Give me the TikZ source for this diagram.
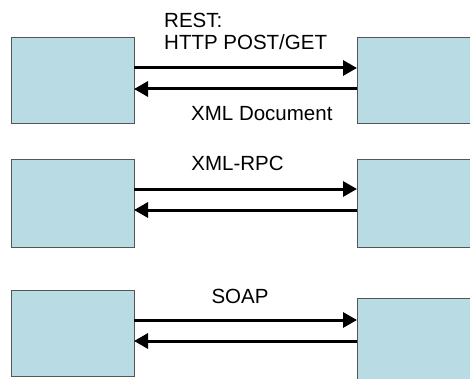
\documentclass[tikz,border=0pt]{standalone}
\usepackage{fontspec}
\setmainfont{Liberation Sans}
\usepackage{tikz}
\usetikzlibrary{positioning, arrows.meta, calc}
\definecolor{boxBlue}{HTML}{B9DCE4}
\definecolor{boxEdge}{HTML}{555555}

\begin{document}
\begin{tikzpicture}[
  x=1pt, y=-1pt,
  box/.style={draw=boxEdge, line width=1pt, fill=boxBlue, anchor=north west,
              inner sep=0pt, outer sep=0pt},
  arr/.style={-{Triangle[length=14pt, width=15pt]}, line width=3pt, black},
  lbl/.style={font=\fontsize{20.5}{22}\selectfont, inner sep=0pt}
]
\useasboundingbox (0,0) rectangle (470,379);
\clip (0,0) rectangle (470,379);

% REST
\node[box, minimum width=123pt, minimum height=86pt] (l1) at (11,38) {};
\node[box, minimum width=120pt, minimum height=86pt] (r1) at (357,38) {};
\draw[arr] (l1.east |- 0,68) -- (r1.west |- 0,68);
\draw[arr] (r1.west |- 0,89) -- (l1.east |- 0,89);
\node[lbl, align=left, anchor=west] (lbrest) at (164,31.5) {REST:\\HTTP POST/GET};
\node[lbl, anchor=west] (lbdoc) at (191,114) {XML Document};

% XML-RPC
\node[box, minimum width=123pt, minimum height=87pt] (l2) at (11,160) {};
\node[box, minimum width=120pt, minimum height=87pt] (r2) at (357,160) {};
\draw[arr] (l2.east |- 0,189) -- (r2.west |- 0,189);
\draw[arr] (r2.west |- 0,210) -- (l2.east |- 0,210);
\node[lbl] (lbrpc) at (237.5,163) {XML-RPC};

% SOAP
\node[box, minimum width=123pt, minimum height=86pt] (l3) at (11,290) {};
\node[box, minimum width=120pt, minimum height=90pt] (r3) at (357,298) {};
\draw[arr] (l3.east |- 0,320) -- (r3.west |- 0,320);
\draw[arr] (r3.west |- 0,341) -- (l3.east |- 0,341);
\node[lbl] (lbsoap) at (240,296) {SOAP};
\end{tikzpicture}
\end{document}
